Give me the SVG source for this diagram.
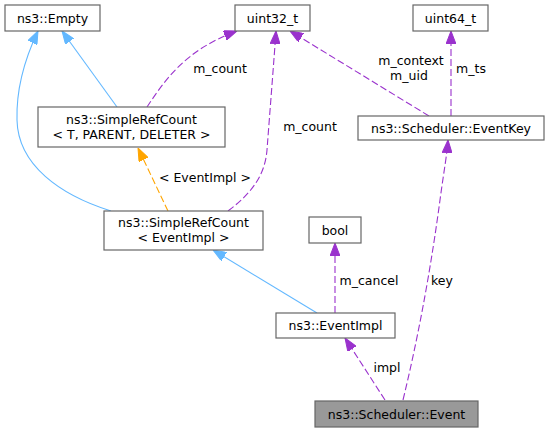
<svg xmlns="http://www.w3.org/2000/svg" width="550" height="432" viewBox="0 0 550 432">
<style>
.node rect{fill:#ffffff;stroke:#666666;stroke-width:1.2}
.node text,.lbl{font-family:"DejaVu Sans","Liberation Sans",sans-serif;font-size:12.5px;fill:#000000;text-anchor:middle}
.e{fill:none;stroke-width:1.1}
.blue{stroke:#63b8ff}
.purple{stroke:#9a32cd;stroke-dasharray:7,3}
.orange{stroke:#ffa500;stroke-dasharray:7,3}
</style>
<defs>
<marker id="ab" viewBox="0 0 13 10" refX="13" refY="5" markerWidth="13" markerHeight="10" markerUnits="userSpaceOnUse" orient="auto"><path d="M0,0 L13,5 L0,10 z" fill="#63b8ff" stroke="#63b8ff"/></marker>
<marker id="ap" viewBox="0 0 13 10" refX="13" refY="5" markerWidth="13" markerHeight="10" markerUnits="userSpaceOnUse" orient="auto"><path d="M0,0 L13,5 L0,10 z" fill="#9a32cd" stroke="#9a32cd"/></marker>
<marker id="ao" viewBox="0 0 13 10" refX="13" refY="5" markerWidth="13" markerHeight="10" markerUnits="userSpaceOnUse" orient="auto"><path d="M0,0 L13,5 L0,10 z" fill="#ffa500" stroke="#ffa500"/></marker>
</defs>
<g id="edges">
<path class="e blue" d="M117,107 L62,31" marker-end="url(#ab)"/>
<path class="e blue" d="M111,211 C60,195 18,165 17,120 C16,85 28,52 38,31" marker-end="url(#ab)"/>
<path class="e orange" d="M168,211 L138,148" marker-end="url(#ao)"/>
<path class="e purple" d="M147,107 C165,80 185,50 237,31" marker-end="url(#ap)"/>
<path class="e purple" d="M228,211 C252,193 265,175 267,150 C270,110 274,60 276,31" marker-end="url(#ap)"/>
<path class="e purple" d="M429,116 L290,31" marker-end="url(#ap)"/>
<path class="e purple" d="M451,116 L451,31" marker-end="url(#ap)"/>
<path class="e purple" d="M403,400 C420,330 432,260 440,200 C444,170 447,155 448,140" marker-end="url(#ap)"/>
<path class="e purple" d="M335,313 L335,243" marker-end="url(#ap)"/>
<path class="e purple" d="M385,400 L345,338" marker-end="url(#ap)"/>
<path class="e blue" d="M317,313 L213,250" marker-end="url(#ab)"/>
<text class="lbl" x="205" y="182">&lt; EventImpl &gt;</text>
<text class="lbl" x="220" y="73">m_count</text>
<text class="lbl" x="310" y="131">m_count</text>
<text class="lbl" x="411" y="65">m_context</text>
<text class="lbl" x="409" y="80">m_uid</text>
<text class="lbl" x="471" y="73">m_ts</text>
<text class="lbl" x="442" y="285">key</text>
<text class="lbl" x="369" y="285">m_cancel</text>
<text class="lbl" x="387" y="372">impl</text>
</g>
<g id="empty" class="node"><rect x="5" y="5" width="95" height="26"/><text x="52.5" y="22.5">ns3::Empty</text></g>
<g id="uint32" class="node"><rect x="235" y="5" width="75" height="26"/><text x="272.5" y="22.5">uint32_t</text></g>
<g id="uint64" class="node"><rect x="413" y="5" width="75" height="26"/><text x="450.5" y="22.5">uint64_t</text></g>
<g id="srcT" class="node"><rect x="38" y="107" width="187" height="40"/><text x="131.5" y="123.5">ns3::SimpleRefCount</text><text x="131.5" y="138.5">&lt; T, PARENT, DELETER &gt;</text></g>
<g id="eventkey" class="node"><rect x="358" y="116" width="186" height="24"/><text x="451" y="132.5">ns3::Scheduler::EventKey</text></g>
<g id="srcE" class="node"><rect x="104" y="211" width="159" height="39"/><text x="183.5" y="227">ns3::SimpleRefCount</text><text x="183.5" y="242">&lt; EventImpl &gt;</text></g>
<g id="bool" class="node"><rect x="309" y="217" width="52" height="26"/><text x="335" y="234.5">bool</text></g>
<g id="eventimpl" class="node"><rect x="276" y="313" width="119" height="25"/><text x="335.5" y="330">ns3::EventImpl</text></g>
<g id="event" class="node"><rect x="315" y="401" width="163" height="26" style="fill:#999999"/><text x="396.5" y="418.5">ns3::Scheduler::Event</text></g>
</svg>
